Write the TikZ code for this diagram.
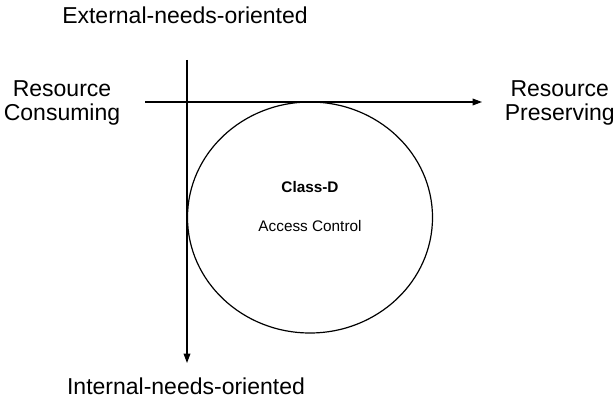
\documentclass[tikz,border=0pt]{standalone}
\usepackage{fontspec}
\setmainfont{Liberation Sans}
\usepackage{tikz}
\usetikzlibrary{arrows.meta, shapes.geometric}

\begin{document}
\begin{tikzpicture}[
          x = 0.75pt, y = -0.75pt,
          axis/.style = {draw, line width = 0.9pt},
          big/.style = {font = \fontsize{17.25}{18}\selectfont, align = center, inner sep = 0},
          small/.style = {font = \fontsize{11.5}{13}\selectfont, inner sep = 0}
        ]
          \useasboundingbox (0,0) rectangle (616,402);
          \tikzstyle {region} = [draw, shape = ellipse, line width = 0.9pt,
                                 minimum width = 183.75pt, minimum height = 173.25pt, inner sep = 0]
          % place nodes
          \path node (ext) [big] at (185,15) {External-needs-oriented};
          \path node (int) [big] at (186,386) {Internal-needs-oriented};
          \path node (cons) [big] at (62,103) {Resource\\Consuming};
          \path node (pres) [big, anchor = east] at (615,103) {Resource\\Preserving};
          \path node (classD) [region] at (310,217.5) {};
          \path node (name) [small, font = \fontsize{11.5}{13}\selectfont\bfseries] at (310,187) {Class-D};
          \path node (task) [small] at (310,226) {Access Control};
          \coordinate (top) at (187,60);
          \coordinate (bottom) at (187,363);
          \coordinate (left) at (145,102);
          \coordinate (right) at (482,102);
          % place edges
          \draw [axis, -{Triangle[length = 7pt, width = 5pt]}] (top) -- (bottom);
          \draw [axis, -{Triangle[length = 7pt, width = 5pt]}] (left) -- (right);
        \end{tikzpicture}
\end{document}
